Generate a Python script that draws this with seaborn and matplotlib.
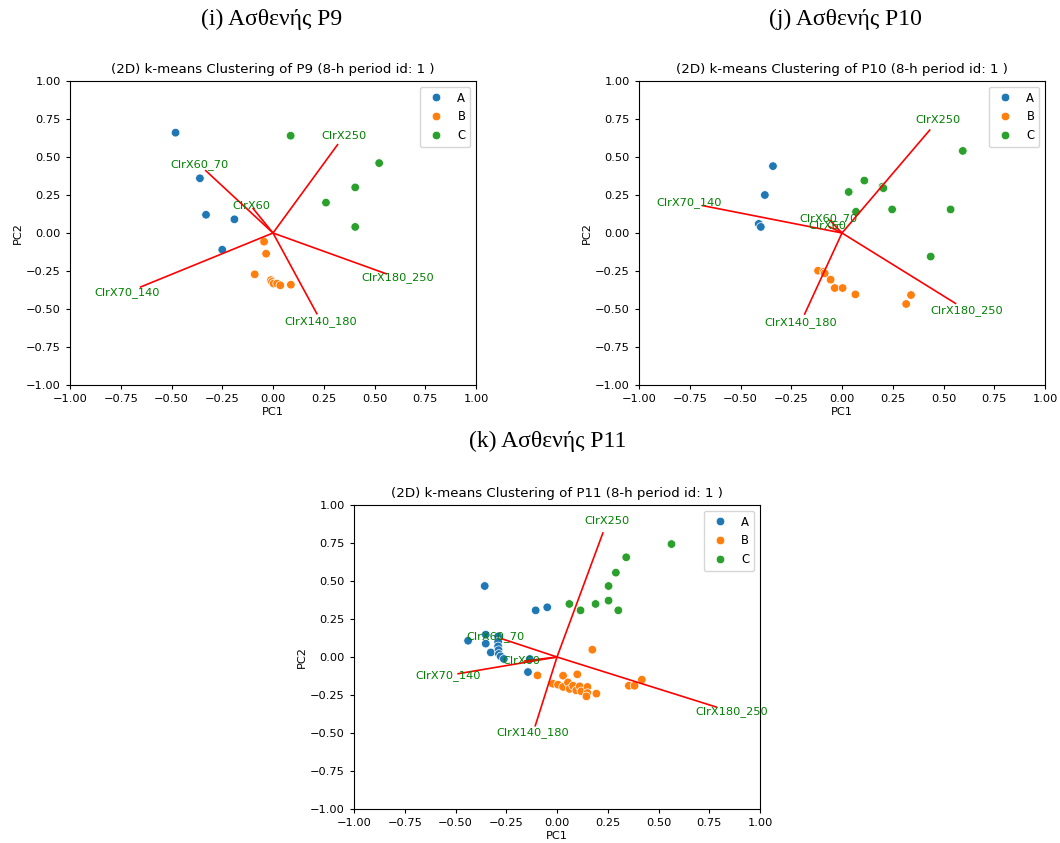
import numpy as np
import pandas as pd
import matplotlib
matplotlib.use("Agg")
import matplotlib.pyplot as plt
import seaborn as sns

# --------------------------
# data
# --------------------------
features = ["ClrX60", "ClrX60_70", "ClrX70_140", "ClrX140_180", "ClrX180_250", "ClrX250"]
cluster_names = ["A", "B", "C"]
cluster_colors = ["#1f77b4", "#ff7f0e", "#2ca02c"]

# P9
p9_pc1 = [-0.48, -0.36, -0.33, -0.19, -0.25,
          -0.044, -0.034, -0.09, -0.01, -0.005, 0.003, 0.02, 0.036, 0.088,
          0.087, 0.523, 0.405, 0.261, 0.405]
p9_pc2 = [0.66, 0.36, 0.12, 0.09, -0.11,
          -0.057, -0.136, -0.272, -0.31, -0.322, -0.333, -0.333, -0.344, -0.34,
          0.64, 0.46, 0.30, 0.20, 0.04]
p9_cluster = ["A"] * 5 + ["B"] * 9 + ["C"] * 5
p9_load_x = [-0.098, -0.331, -0.652, 0.216, 0.557, 0.318]
p9_load_y = [0.161, 0.410, -0.355, -0.531, -0.268, 0.581]

# P10
p10_pc1 = [-0.34, -0.38, -0.41, -0.40,
           -0.118, -0.09, -0.085, -0.056, -0.036, 0.003, 0.066, 0.316, 0.340,
           0.595, 0.11, 0.033, 0.20, 0.204, 0.247, 0.535, 0.069, 0.437]
p10_pc2 = [0.44, 0.25, 0.06, 0.04,
           -0.248, -0.255, -0.265, -0.307, -0.362, -0.362, -0.404, -0.467, -0.408,
           0.54, 0.345, 0.27, 0.305, 0.295, 0.155, 0.155, 0.14, -0.155]
p10_cluster = ["A"] * 4 + ["B"] * 9 + ["C"] * 9
p10_load_x = [-0.064, -0.06, -0.686, -0.184, 0.559, 0.432]
p10_load_y = [0.042, 0.084, 0.180, -0.533, -0.463, 0.677]

# P11
p11_pc1 = [-0.356, -0.105, -0.048, -0.438, -0.351, -0.351, -0.326, -0.29, -0.29,
           -0.29, -0.288, -0.286, -0.277, -0.262, -0.134, -0.143,
           0.174, -0.096, 0.03, 0.10, -0.02, 0.005, 0.03, 0.054, 0.062, 0.079,
           0.095, 0.112, 0.12, 0.15, 0.15, 0.145, 0.194, 0.354, 0.382, 0.418,
           0.564, 0.341, 0.29, 0.254, 0.254, 0.19, 0.116, 0.061, 0.302]
p11_pc2 = [0.467, 0.307, 0.327, 0.107, 0.147, 0.088, 0.03, 0.136, 0.10,
           0.07, 0.045, 0.02, 0.004, -0.013, -0.013, -0.099,
           0.048, -0.121, -0.123, -0.114, -0.176, -0.182, -0.197, -0.167, -0.21, -0.189,
           -0.22, -0.193, -0.226, -0.197, -0.237, -0.259, -0.241, -0.189, -0.189, -0.149,
           0.743, 0.656, 0.555, 0.467, 0.371, 0.349, 0.307, 0.349, 0.307]
p11_cluster = ["A"] * 16 + ["B"] * 20 + ["C"] * 9
p11_load_x = [-0.159, -0.274, -0.487, -0.107, 0.784, 0.226]
p11_load_y = [-0.026, 0.121, -0.11, -0.452, -0.329, 0.816]

ticks = [-1.0, -0.75, -0.5, -0.25, 0.0, 0.25, 0.5, 0.75, 1.0]


def biplot(ax, pc1, pc2, clusters, load_x, load_y, patient):
    df = pd.DataFrame({"PC1": pc1, "PC2": pc2, "cluster": clusters})
    sns.scatterplot(data=df, x="PC1", y="PC2", hue="cluster", hue_order=cluster_names,
                    palette=cluster_colors, s=38, linewidth=0.5, edgecolor="white",
                    ax=ax, zorder=2)
    for i, name in enumerate(features):
        ax.plot([0, load_x[i]], [0, load_y[i]], color="red", lw=1.2, zorder=3)
        ax.text(load_x[i] * 1.1, load_y[i] * 1.1, name, color="g",
                ha="center", va="center", fontsize=8.2, zorder=4)
    ax.set_xlim(-1, 1)
    ax.set_ylim(-1, 1)
    ax.set_xticks(ticks)
    ax.set_yticks(ticks)
    ax.tick_params(labelsize=8.2, length=3)
    ax.set_xlabel("PC1", fontsize=8.2, labelpad=2)
    ax.set_ylabel("PC2", fontsize=8.2, labelpad=2)
    ax.set_title(f"(2D) k-means Clustering of {patient} (8-h period id: 1 )", fontsize=9.6)
    ax.legend(loc="upper right", fontsize=8.4, title=None, labelspacing=0.5,
              handletextpad=0.8, markerscale=1.0)
    for sp in ax.spines.values():
        sp.set_linewidth(0.8)


fig = plt.figure(figsize=(10.6, 8.43), dpi=100)
W, H = 1060, 843

ax1 = fig.add_axes([70 / W, 1 - 385 / H, 406 / W, 304 / H])
ax2 = fig.add_axes([639 / W, 1 - 385 / H, 406 / W, 304 / H])
ax3 = fig.add_axes([354 / W, 1 - 809 / H, 406 / W, 304 / H])

biplot(ax1, p9_pc1, p9_pc2, p9_cluster, p9_load_x, p9_load_y, "P9")
biplot(ax2, p10_pc1, p10_pc2, p10_cluster, p10_load_x, p10_load_y, "P10")
biplot(ax3, p11_pc1, p11_pc2, p11_cluster, p11_load_x, p11_load_y, "P11")

serif = ["Liberation Serif", "DejaVu Serif"]
fig.text(272 / W, 1 - 19 / H, "(i) Ασθενής P9", family=serif, fontsize=17, ha="center", va="center")
fig.text(845 / W, 1 - 19 / H, "(j) Ασθενής P10", family=serif, fontsize=17, ha="center", va="center")
fig.text(548 / W, 1 - 441 / H, "(k) Ασθενής P11", family=serif, fontsize=17, ha="center", va="center")

fig.savefig("out.png", dpi=100)
